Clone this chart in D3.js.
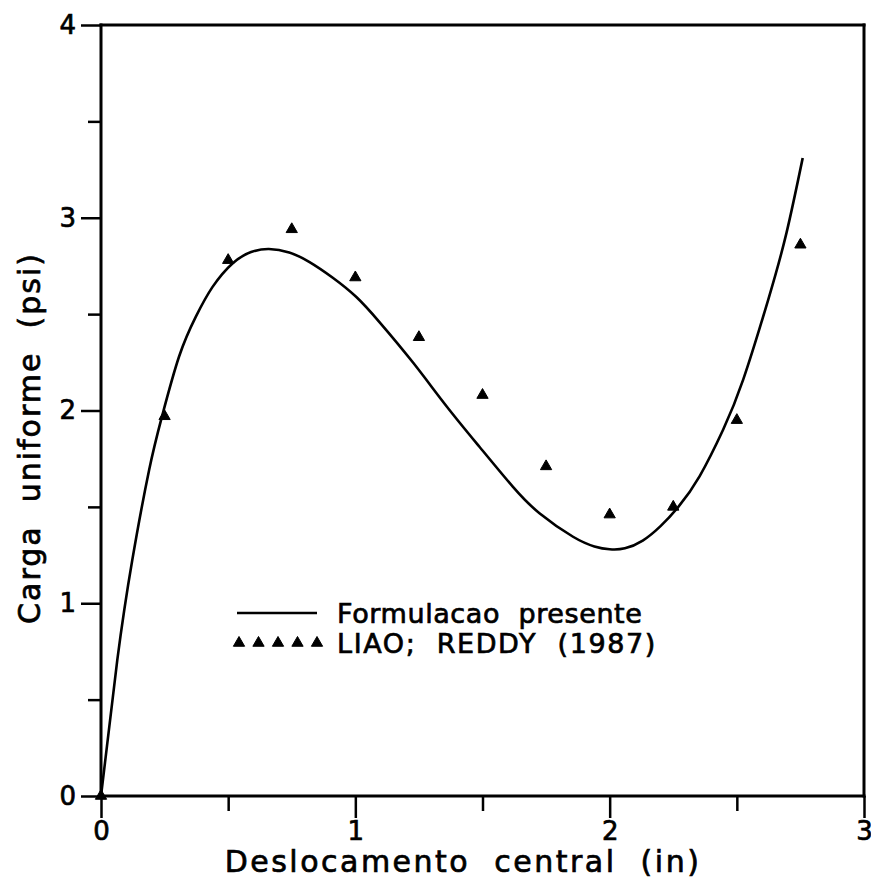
<!DOCTYPE html>
<html>
<head>
<meta charset="utf-8">
<script src="https://cdn.jsdelivr.net/npm/d3@7"></script>
<style>
  body { margin: 0; background: #fff; }
  text { font-family: "DejaVu Sans", sans-serif; fill: #000; stroke: #000; stroke-width: 0.7px; white-space: pre; }
</style>
</head>
<body>
<script>
// chart size
var width = 871;
var height = 894;

// curve ("Formulacao presente")
var curveX = [0, 0.064, 0.123, 0.189, 0.24, 0.307, 0.373, 0.438, 0.517, 0.59, 0.66, 0.74, 0.82, 0.91, 1.003, 1.094, 1.226, 1.357, 1.488, 1.619, 1.724, 1.856, 1.94, 2.0, 2.06, 2.13, 2.2, 2.27, 2.354, 2.446, 2.525, 2.623, 2.695, 2.759];
var curveY = [0, 0.705, 1.224, 1.69, 1.97, 2.28, 2.487, 2.64, 2.763, 2.822, 2.838, 2.82, 2.77, 2.69, 2.59, 2.46, 2.25, 2.025, 1.812, 1.605, 1.467, 1.345, 1.295, 1.28, 1.285, 1.325, 1.40, 1.50, 1.66, 1.90, 2.16, 2.573, 2.92, 3.31];

// reference points (LIAO; REDDY 1987)
var pointX = [0, 0.25, 0.5, 0.75, 1.0, 1.25, 1.5, 1.75, 2.0, 2.25, 2.5, 2.75];
var pointY = [0, 1.97, 2.78, 2.94, 2.69, 2.38, 2.08, 1.71, 1.46, 1.50, 1.95, 2.86];

// ticks
var xMajor = [0, 1, 2, 3];
var xMinor = [0.5, 1.5, 2.5];
var yMajor = [0, 1, 2, 3, 4];
var yMinor = [0.5, 1.5, 2.5, 3.5];

var legendLabels = ["Formulacao  presente", "LIAO;  REDDY  (1987)"];
var xTitle = "Deslocamento  central  (in)";
var yTitle = "Carga  uniforme  (psi)";

var x = d3.scaleLinear().domain([0, 3]).range([101, 864]);
var y = d3.scaleLinear().domain([0, 4]).range([796, 25]);

var svg = d3.select("body")
    .append("svg")
    .attr("width", width)
    .attr("height", height);

//Axes: minor ticks first, then labelled major ticks
function styleAxis(g) {
    g.selectAll("line").attr("stroke", "#000").attr("stroke-width", 2.5);
    g.select(".domain").remove();
    g.selectAll("text").attr("font-size", 26).attr("font-family", "DejaVu Sans");
}

svg.append("g")
    .attr("transform", "translate(0," + y(0) + ")")
    .call(d3.axisBottom(x).tickValues(xMinor).tickSize(15).tickFormat(""))
    .call(styleAxis);
svg.append("g")
    .attr("transform", "translate(0," + y(0) + ")")
    .call(d3.axisBottom(x).tickValues(xMajor).tickSize(22).tickPadding(4).tickFormat(d3.format("d")))
    .call(styleAxis);

svg.append("g")
    .attr("transform", "translate(" + x(0) + ",0)")
    .call(d3.axisLeft(y).tickValues(yMinor).tickSize(13).tickFormat(""))
    .call(styleAxis);
svg.append("g")
    .attr("transform", "translate(" + x(0) + ",0)")
    .call(d3.axisLeft(y).tickValues(yMajor).tickSize(20).tickPadding(5).tickFormat(d3.format("d")))
    .call(styleAxis);

//Frame
var frame = [
    [x(0), y(0), x(3), y(0)],
    [x(0), y(0), x(0), y(4)],
    [x(0), y(4), x(3), y(4)],
    [x(3), y(4), x(3), y(0)]
];
svg.selectAll(".frame")
    .data(frame)
    .enter().append("line")
    .attr("class", "frame")
    .attr("x1", function(d) { return d[0]; })
    .attr("y1", function(d) { return d[1]; })
    .attr("x2", function(d) { return d[2]; })
    .attr("y2", function(d) { return d[3]; })
    .attr("stroke", "#000")
    .attr("stroke-width", 3)
    .attr("stroke-linecap", "square");

//Curve
var line = d3.line()
    .x(function(d, i) { return x(curveX[i]); })
    .y(function(d, i) { return y(curveY[i]); })
    .curve(d3.curveNatural);

svg.append("path")
    .datum(curveX)
    .attr("d", line)
    .attr("fill", "none")
    .attr("stroke", "#000")
    .attr("stroke-width", 2.6);

//Triangles
var tri = d3.symbol().type(d3.symbolTriangle).size(55);
svg.selectAll(".pt")
    .data(pointX)
    .enter().append("path")
    .attr("class", "pt")
    .attr("d", tri)
    .attr("transform", function(d, i) { return "translate(" + x(d) + "," + y(pointY[i]) + ")"; })
    .attr("fill", "#000")
    .attr("stroke", "#000")
    .attr("stroke-linejoin", "round")
    .attr("stroke-width", 1);

//Axis titles
svg.append("text")
    .attr("x", 463)
    .attr("y", 872)
    .attr("text-anchor", "middle")
    .attr("font-size", 30)
    .attr("letter-spacing", 2.5)
    .text(xTitle);

svg.append("text")
    .attr("transform", "translate(40," + 438 + ") rotate(-90)")
    .attr("text-anchor", "middle")
    .attr("font-size", 30)
    .attr("letter-spacing", 2)
    .text(yTitle);

//Legend
var lg = svg.append("g").attr("transform", "translate(237,613)");
lg.append("line")
    .attr("x1", 0).attr("x2", 80)
    .attr("stroke", "#000").attr("stroke-width", 2.6);
lg.selectAll(".lt")
    .data([0, 1, 2, 3, 4])
    .enter().append("path")
    .attr("class", "lt")
    .attr("d", tri)
    .attr("transform", function(d) { return "translate(" + (2 + d * 19.5) + ",30)"; })
    .attr("fill", "#000")
    .attr("stroke", "#000")
    .attr("stroke-linejoin", "round")
    .attr("stroke-width", 1);
lg.selectAll(".ll")
    .data(legendLabels)
    .enter().append("text")
    .attr("class", "ll")
    .attr("x", 100)
    .attr("y", function(d, i) { return i * 30 + 10; })
    .attr("font-size", 27)
    .attr("letter-spacing", function(d, i) { return i === 0 ? 0.6 : 1.6; })
    .text(function(d) { return d; });
</script>
</body>
</html>
